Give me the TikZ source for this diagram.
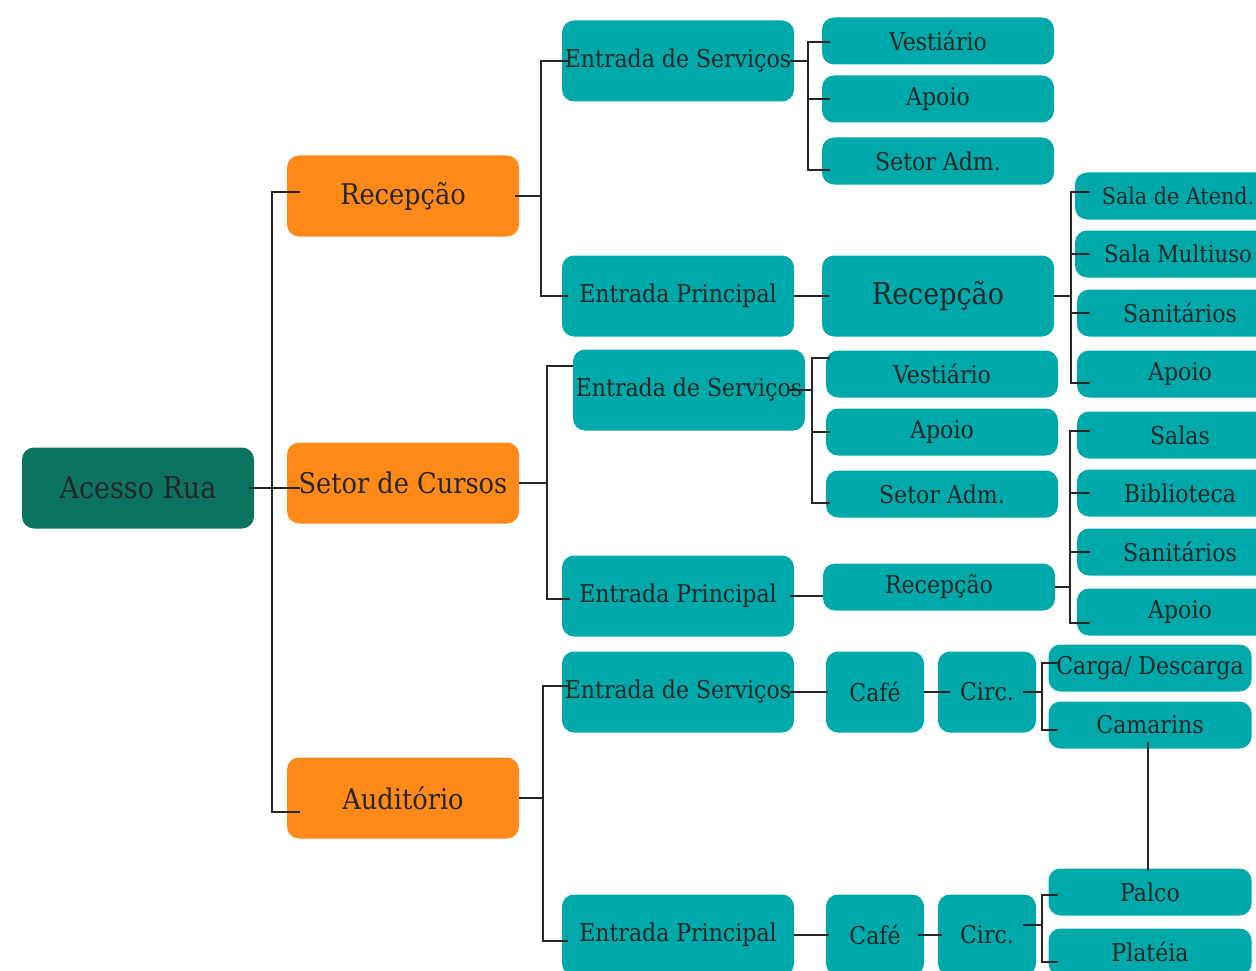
\documentclass[tikz,border=0pt]{standalone}
\usepackage{fontspec}
\setmainfont{DejaVu Serif Condensed}
\definecolor{rua}{HTML}{0B7360}
\definecolor{laranja}{HTML}{FF8A1A}
\definecolor{turq}{HTML}{00A9A9}
\definecolor{texto}{HTML}{262626}
\tikzset{
  caixa/.style={rounded corners=12pt, fill=turq, text=texto, minimum width=232pt,
    minimum height=81pt, inner sep=0pt, font=\fontsize{24.5}{26}\selectfont},
  setor/.style={caixa, fill=laranja, font=\fontsize{28.5}{30}\selectfont},
  sala/.style={caixa, minimum height=47pt},
  salad/.style={sala, minimum width=206pt},
  miuda/.style={caixa, minimum width=98pt},
  liga/.style={draw=texto, line width=1.5pt},
}
\begin{document}
\begin{tikzpicture}[x=1pt,y=-1pt]
		\useasboundingbox (0,0) rectangle (1256,971);
		\clip (0,0) rectangle (1256,971);
		% caixas
		\node[caixa,fill=rua,font=\fontsize{30}{32}\selectfont] (rua) at (138,488) {Acesso Rua};
		\node[setor] (rec) at (403,196) {Recepção};
		\node[setor] (cur) at (403,483) {Setor de Cursos};
		\node[setor] (aud) at (403,798) {Auditório};
		\node[caixa] (es1) at (678,61) {Entrada de Serviços};
		\node[caixa] (ep1) at (678,296) {Entrada Principal};
		\node[caixa,font=\fontsize{30}{32}\selectfont] (rec1) at (938,296) {Recepção};
		\node[caixa] (es2) at (689,390) {Entrada de Serviços};
		\node[caixa] (ep2) at (678,596) {Entrada Principal};
		\node[sala] (rec2) at (939,587) {Recepção};
		\node[caixa] (es3) at (678,692) {Entrada de Serviços};
		\node[caixa] (ep3) at (678,935) {Entrada Principal};
		\node[miuda] (cafe1) at (875,692) {Café};
		\node[miuda] (circ1) at (987,692) {Circ.};
		\node[miuda] (cafe2) at (875,935) {Café};
		\node[miuda] (circ2) at (987,935) {Circ.};
		\node[sala] (v1) at (938,41) {Vestiário};
		\node[sala] (a1) at (938,99) {Apoio};
		\node[sala] (s1) at (938,161) {Setor Adm.};
		\node[sala] (v2) at (942,374) {Vestiário};
		\node[sala] (a2) at (942,432) {Apoio};
		\node[sala] (s2) at (942,494) {Setor Adm.};
		\node[salad,font=\fontsize{23}{25}\selectfont] (r1) at (1178,196) {Sala de Atend.};
		\node[salad,font=\fontsize{23.5}{25}\selectfont] (r2) at (1178,254) {Sala Multiuso};
		\node[salad] (r3) at (1180,313) {Sanitários};
		\node[salad] (r4) at (1180,374) {Apoio};
		\node[salad] (c1) at (1180,435) {Salas};
		\node[salad] (c2) at (1180,493) {Biblioteca};
		\node[salad] (c3) at (1180,552) {Sanitários};
		\node[salad] (c4) at (1180,612) {Apoio};
		\node[sala,minimum width=203pt] (carga) at (1150,668) {Carga/ Descarga};
		\node[sala,minimum width=203pt] (cam) at (1150,725) {Camarins};
		\node[sala,minimum width=203pt] (palco) at (1150,892) {Palco};
		\node[sala,minimum width=203pt] (plat) at (1150,952) {Platéia};
		% ligacoes
		\draw[liga] ([shift={(-5,0)}]rua.east) -- ([shift={(13,0)}]cur.west |- rua.east);
		\draw[liga] ([shift={(13,-4)}]rec.west) -- ++(-28,0) |- ([shift={(13,14)}]aud.west);
		\draw[liga] ([shift={(-4,0)}]rec.east) -- ++(26,0) coordinate (b1);
		\draw[liga] ([shift={(6,0)}]es1.west) -| (b1) |- ([shift={(6,0)}]ep1.west);
		\draw[liga] (cur.east) -- ++(28,0) coordinate (b2);
		\draw[liga] ([shift={(0,-24)}]es2.west) -| (b2) |- ([shift={(8,3)}]ep2.west);
		\draw[liga] (aud.east) -- ++(24,0) coordinate (b3);
		\draw[liga] ([shift={(6,-6)}]es3.west) -| (b3) |- ([shift={(6,6)}]ep3.west);
		\draw[liga] ([shift={(-4,0)}]es1.east) -- ++(18,0) coordinate (b4);
		\draw[liga] ([shift={(8,1)}]v1.west) -| (b4) |- ([shift={(8,9)}]s1.west);
		\draw[liga] (b4 |- a1) -- ([shift={(8,0)}]a1.west);
		\draw[liga] ([shift={(-15,0)}]es2.east) -- ++(22,0) coordinate (b5);
		\draw[liga] ([shift={(4,-16)}]v2.west) -| (b5) |- ([shift={(4,9)}]s2.west);
		\draw[liga] (b5 |- a2) -- ([shift={(4,0)}]a2.west);
		\draw[liga] (ep1.east) -- ([shift={(7,0)}]rec1.west);
		\draw[liga] (rec1.east) -- ++(17,0) coordinate (b6);
		\draw[liga] ([shift={(15,-4)}]r1.west) -| (b6) |- ([shift={(13,9)}]r4.west);
		\draw[liga] (b6 |- r2) -- ([shift={(15,0)}]r2.west);
		\draw[liga] (b6 |- r3) -- ([shift={(13,0)}]r3.west);
		\draw[liga] ([shift={(-4,0)}]ep2.east) -- (rec2.west |- ep2.east);
		\draw[liga] (rec2.east) -- ++(15,0) coordinate (b7);
		\draw[liga] ([shift={(13,-4)}]c1.west) -| (b7) |- ([shift={(13,11)}]c4.west);
		\draw[liga] (b7 |- c2) -- ([shift={(13,0)}]c2.west);
		\draw[liga] (b7 |- c3) -- ([shift={(13,0)}]c3.west);
		\draw[liga] ([shift={(-4,0)}]es3.east) -- ([shift={(2,0)}]cafe1.west);
		\draw[liga] (cafe1.east) -- ([shift={(12,0)}]circ1.west);
		\draw[liga] ([shift={(-13,0)}]circ1.east) -- ++(19,0) coordinate (b8);
		\draw[liga] ([shift={(10,-5)}]carga.west) -| (b8) |- ([shift={(10,5)}]cam.west);
		\draw[liga] ([shift={(-2,-7)}]cam.south) -- ([shift={(-2,3)}]palco.north);
		\draw[liga] (ep3.east) -- ([shift={(3,0)}]cafe2.west);
		\draw[liga] ([shift={(-6,0)}]cafe2.east) -- ([shift={(4,0)}]circ2.west);
		\draw[liga] ([shift={(-13,-10)}]circ2.east) -- ++(19,0) coordinate (b9);
		\draw[liga] ([shift={(10,3)}]palco.west) -| (b9) |- ([shift={(10,10)}]plat.west);
\end{tikzpicture}
\end{document}
